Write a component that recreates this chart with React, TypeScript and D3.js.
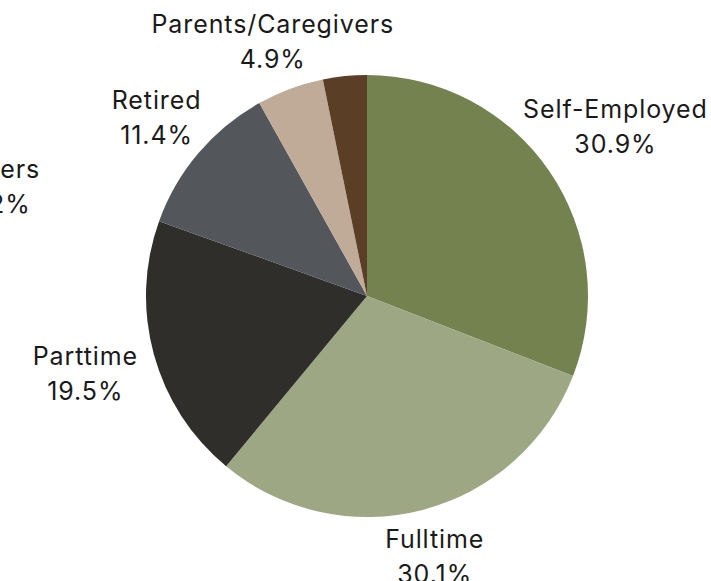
import React from "react";
import * as d3 from "d3";

const categories = ["Self-Employed", "Fulltime", "Parttime", "Retired", "Parents/Caregivers", "Others"];
const percents = [30.9, 30.1, 19.5, 11.4, 4.9, 3.2];
const colors = ["#748250", "#9ea784", "#2f2e2a", "#53565a", "#bfab98", "#5a3e25"];

const W = 711;
const H = 581;
const CX = 367;
const CY = 296;
const R = 221;
// label placement (distance from centre of the label block, optional angle override in degrees)
const labelDist = [301, 269, 292, 276, 271, 385];
const labelAngle: (number | null)[] = [null, null, null, null, null, 286.5];

export default function App() {
  const pie = d3.pie<number>().value((d) => d).sort(null).startAngle(0).endAngle(2 * Math.PI);
  const arcs = pie(percents);
  const arc = d3.arc<d3.PieArcDatum<number>>().innerRadius(0).outerRadius(R);
  const fontSize = 25;
  const lineGap = 35;
  return (
    <svg width={W} height={H} style={{ position: "absolute", left: 0, top: 0 }}>
      <g transform={`translate(${CX},${CY})`}>
        {arcs.map((a, i) => (
          <path key={i} d={arc(a) || ""} fill={colors[i]} />
        ))}
        {arcs.map((a, i) => {
          const mid = labelAngle[i] != null ? (labelAngle[i]! * Math.PI) / 180 : (a.startAngle + a.endAngle) / 2;
          const x = Math.sin(mid) * labelDist[i];
          const y = -Math.cos(mid) * labelDist[i];
          return (
            <text
              key={"t" + i}
              x={x}
              y={y}
              textAnchor="middle"
              fontFamily="Inter, Roboto, sans-serif"
              fontSize={fontSize}
              letterSpacing={0.9}
              fill="#1a1a1a"
            >
              <tspan x={x} dy={-lineGap / 2 + fontSize * 0.36}>{categories[i]}</tspan>
              <tspan x={x} dy={lineGap}>{d3.format(".1f")(percents[i]) + "%"}</tspan>
            </text>
          );
        })}
      </g>
    </svg>
  );
}
